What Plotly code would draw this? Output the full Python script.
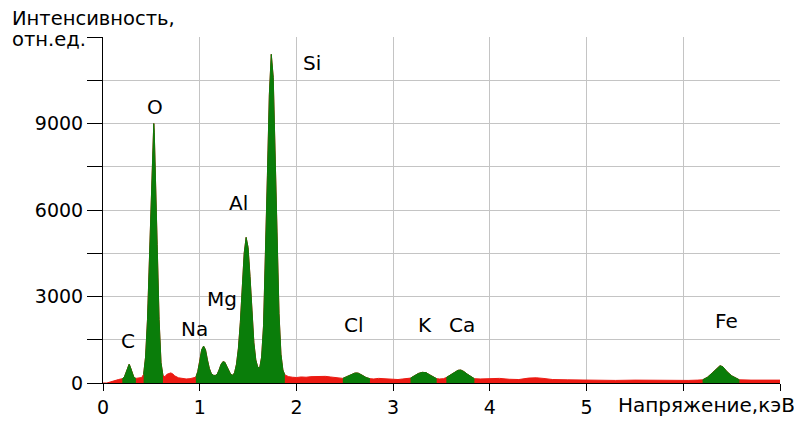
import plotly.graph_objects as go

# Spectrum: energy (keV) and counts
energy = [0.00, 0.04, 0.08, 0.12, 0.16, 0.20,
          0.22, 0.24, 0.26, 0.27, 0.28, 0.30, 0.32, 0.34,
          0.37, 0.40,
          0.42, 0.44, 0.46, 0.48, 0.50, 0.52, 0.525, 0.53, 0.54, 0.56, 0.58, 0.60, 0.62,
          0.64, 0.66, 0.68, 0.70, 0.72, 0.74, 0.78, 0.82, 0.86, 0.90, 0.94,
          0.96, 0.98, 1.00, 1.02, 1.04, 1.06, 1.08, 1.10, 1.12, 1.14, 1.16,
          1.18, 1.20, 1.22, 1.24, 1.26, 1.28, 1.30, 1.32, 1.34,
          1.36, 1.38, 1.40, 1.42, 1.44, 1.46, 1.48, 1.50, 1.52, 1.54, 1.56, 1.58, 1.60, 1.62,
          1.64, 1.66, 1.68, 1.70, 1.72, 1.74, 1.76, 1.78, 1.80, 1.82, 1.84, 1.86, 1.88,
          1.92, 1.96, 2.00, 2.05, 2.10, 2.15, 2.20, 2.25, 2.30, 2.35, 2.40, 2.45,
          2.48, 2.52, 2.56, 2.60, 2.62, 2.64, 2.68, 2.72, 2.76,
          2.80, 2.85, 2.90, 2.95, 3.00, 3.05, 3.10, 3.15,
          3.18, 3.22, 3.26, 3.30, 3.32, 3.34, 3.38, 3.42, 3.45,
          3.48, 3.52,
          3.55, 3.59, 3.63, 3.67, 3.70, 3.73, 3.77, 3.81, 3.84,
          3.90, 4.00, 4.10, 4.20, 4.30, 4.40, 4.48, 4.55, 4.65, 4.80, 4.95,
          5.10, 5.30, 5.50, 5.70, 5.90, 6.05, 6.15,
          6.20, 6.25, 6.30, 6.35, 6.38, 6.41, 6.45, 6.50, 6.55, 6.58,
          6.70, 6.85, 7.00]
counts = [0, 0, 40, 90, 120, 150,
          200, 380, 600, 650, 580, 350, 190, 160,
          170, 190,
          300, 900, 2200, 4300, 7000, 8800, 9000, 8700, 7600, 4800, 2200, 700, 260,
          220, 300, 340, 350, 320, 250, 180, 150, 140, 150, 170,
          200, 400, 750, 1150, 1280, 1150, 800, 500, 330, 270, 260,
          300, 450, 640, 740, 720, 580, 420, 300, 270,
          350, 650, 1200, 2100, 3300, 4500, 5050, 4700, 3700, 2400, 1400, 800, 550, 520,
          900, 2000, 4200, 7200, 10000, 11400, 10600, 8000, 4800, 2400, 1000, 450, 280,
          220, 200, 190, 210, 200, 220, 230, 240, 230, 210, 190, 170,
          160, 220, 290, 340, 350, 340, 270, 190, 150,
          140, 160, 150, 140, 130, 120, 140, 150,
          170, 250, 330, 370, 375, 360, 280, 190, 150,
          140, 150,
          190, 280, 380, 440, 450, 400, 300, 200, 150,
          140, 150, 160, 130, 120, 170, 180, 160, 120, 110, 100,
          100, 90, 100, 90, 100, 90, 100,
          110, 200, 350, 520, 600, 560, 400, 250, 150, 110,
          100, 110, 100]

# Peak regions (keV) drawn in green
roi_start = [0.20, 0.42, 0.96, 2.48, 3.18, 3.55, 6.20]
roi_end = [0.34, 0.62, 1.88, 2.76, 3.45, 3.84, 6.58]

# Element labels and their positions (keV, counts)
elements = ["C", "O", "Na", "Mg", "Al", "Si", "Cl", "K", "Ca", "Fe"]
label_x = [0.26, 0.54, 0.95, 1.23, 1.40, 2.16, 2.60, 3.33, 3.71, 6.45]
label_y = [1450, 9580, 1870, 2900, 6260, 11100, 2000, 2000, 2000, 2150]

x_ticks = [0, 1, 2, 3, 4, 5, 6, 7]
x_ticktext = ["0", "1", "2", "3", "4", "5", "", ""]
y_ticks = [0, 1500, 3000, 4500, 6000, 7500, 9000, 10500, 12000]
y_ticktext = ["0", "", "3000", "", "6000", "", "9000", "", ""]

GREEN = "#0a7d0a"
RED = "#ec1a12"
FONT = "DejaVu Sans, Liberation Sans, Arial, sans-serif"

# page body has an 8px default margin; the figure is sized to fit the 802x422 window
W, H = 794, 414
ML, MR, MT, MB = 95, 22, 29, 39
PW, PH = W - ML - MR, H - MT - MB

fig = go.Figure()
fig.add_trace(go.Scatter(x=energy, y=counts, mode="lines", fill="tozeroy",
                         line=dict(color=RED, width=1), fillcolor=RED,
                         hoverinfo="skip", showlegend=False))
for a, b in zip(roi_start, roi_end):
    sx = [e for e in energy if a <= e <= b]
    sy = [c for e, c in zip(energy, counts) if a <= e <= b]
    fig.add_trace(go.Scatter(x=sx, y=sy, mode="lines", fill="tozeroy",
                             line=dict(color=GREEN, width=1), fillcolor=GREEN,
                             hoverinfo="skip", showlegend=False))

for t, lx, ly in zip(elements, label_x, label_y):
    fig.add_annotation(x=lx, y=ly, text=t, showarrow=False,
                       font=dict(family=FONT, size=20, color="black"))

fig.add_annotation(xref="paper", yref="paper", x=(2 - ML) / PW, y=1 + (MT - 10) / PH,
                   xanchor="left", yanchor="middle", text="Интенсивность,",
                   showarrow=False, font=dict(family=FONT, size=19.5, color="black"))
fig.add_annotation(xref="paper", yref="paper", x=(2 - ML) / PW, y=1 + (MT - 31) / PH,
                   xanchor="left", yanchor="middle", text="отн.ед.",
                   showarrow=False, font=dict(family=FONT, size=19.5, color="black"))
fig.add_annotation(xref="paper", yref="paper", x=1 + (MR - 5) / PW, y=-22 / PH,
                   xanchor="right", yanchor="middle", text="Напряжение,кэВ",
                   showarrow=False, font=dict(family=FONT, size=20, color="black"))

fig.update_xaxes(range=[0, 7], tickvals=x_ticks, ticktext=x_ticktext,
                 showgrid=True, gridcolor="#c4c4c4", gridwidth=1,
                 showline=True, linecolor="black", linewidth=1,
                 ticks="outside", ticklen=7, tickcolor="black", automargin=False,
                 zeroline=False, tickfont=dict(family=FONT, size=19, color="black"))
fig.update_yaxes(range=[0, 12000], tickvals=y_ticks, ticktext=y_ticktext,
                 showgrid=True, gridcolor="#c4c4c4", gridwidth=1,
                 showline=True, linecolor="black", linewidth=1,
                 ticks="outside", ticklen=15, tickcolor="black", automargin=False,
                 zeroline=False, tickfont=dict(family=FONT, size=19, color="black"))

fig.update_layout(width=W, height=H, margin=dict(l=ML, r=MR, t=MT, b=MB),
                  plot_bgcolor="white", paper_bgcolor="white")

fig.write_html("out.html")
